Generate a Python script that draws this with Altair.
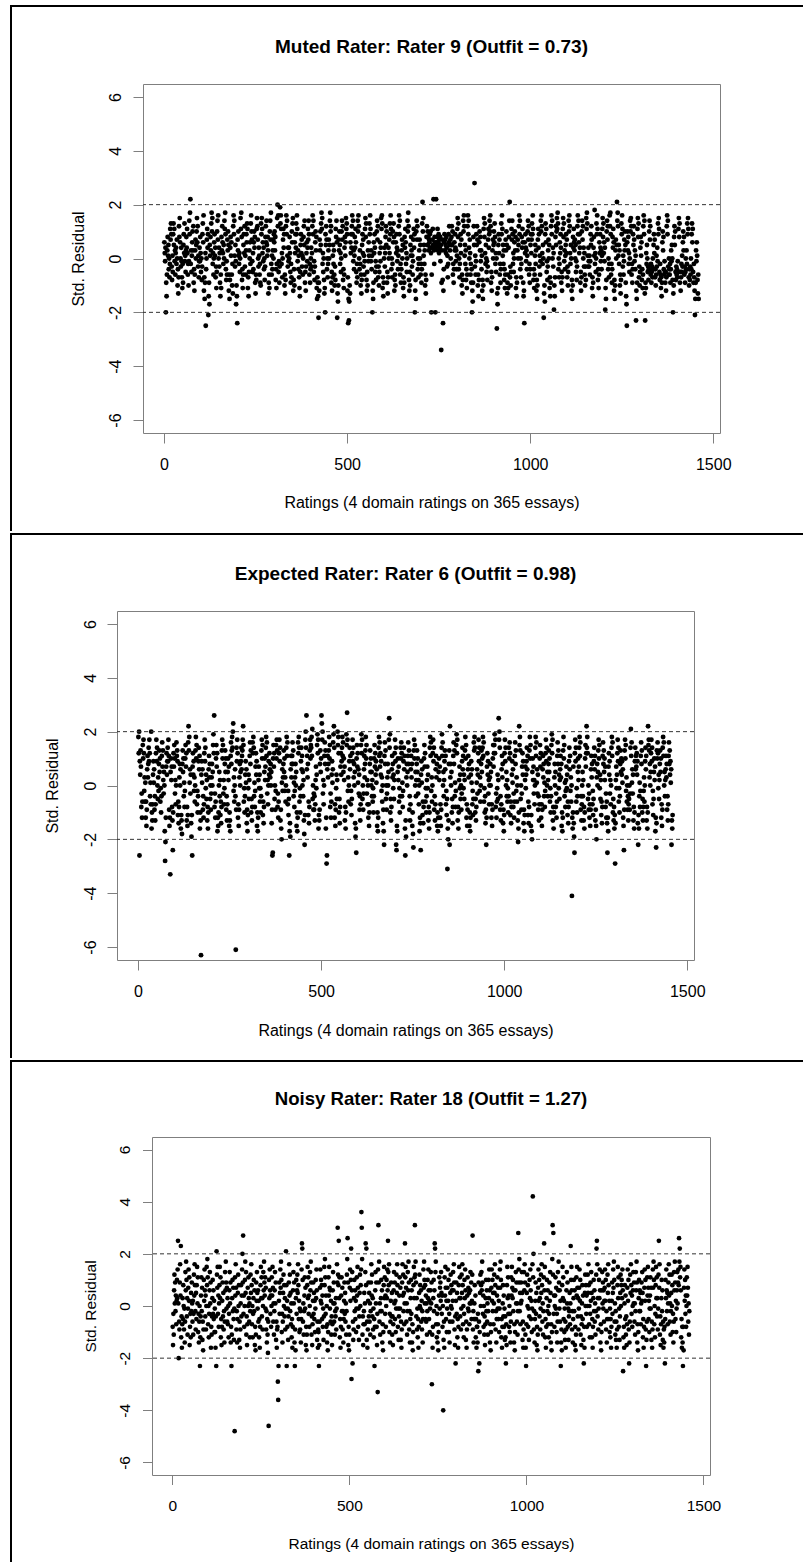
import altair as alt
import pandas as pd

FONT = "Liberation Sans"
GRAY = "#7f7f7f"

panel_titles = [
    "Muted Rater: Rater 9 (Outfit = 0.73)",
    "Expected Rater: Rater 6 (Outfit = 0.98)",
    "Noisy Rater: Rater 18 (Outfit = 1.27)",
]
x_title = "Ratings (4 domain ratings on 365 essays)"
y_title = "Std. Residual"
x_ticks = [0, 500, 1000, 1500]
y_ticks = [-6, -4, -2, 0, 2, 4, 6]
ref_levels = [2, -2]
x_domain = [-57.4, 1518.4]
y_domain = [-6.48, 6.48]

# standardized residuals, in tenths, one per rating (4 domains per essay, in order)
muted_x10 = [
    6,2,-1,4,-20,-9,-14,-6,3,8,1,5,-4,0,-7,-2,11,7,13,9,
    -3,-8,1,-5,9,13,5,11,-1,3,-6,2,4,-2,7,0,-10,-4,-13,-7,
    12,8,15,6,0,-3,4,-1,-7,-11,-2,-9,5,9,2,13,-1,1,-5,3,
    8,4,11,2,-6,-2,-10,-1,14,9,17,22,-2,3,-5,1,6,10,3,12,
    -9,-4,-12,-6,3,7,0,5,10,15,6,12,-3,1,-7,-1,4,-1,8,2,
    -5,0,-8,-3,9,13,6,16,-12,-7,-15,-9,2,-25,-4,0,7,11,4,9,
    -21,-14,-9,-17,5,1,8,3,13,17,10,15,-2,2,-6,0,6,9,1,4,
    -7,-3,-11,-5,10,14,7,16,0,4,-3,2,-9,-14,-6,-11,8,3,12,6,
    2,-2,5,0,14,11,17,9,-4,-8,-1,-6,7,3,10,5,-12,-6,-15,-8,
    4,8,1,6,-6,-10,-2,-13,12,16,9,14,1,-3,5,-1,-17,-10,-14,-24,
    7,3,10,1,-2,2,-5,0,15,11,17,8,-8,-4,-11,-6,5,9,2,12,
    -3,1,-6,3,9,6,13,11,-11,-7,-14,-5,3,0,6,-2,13,16,10,7,
    -1,-5,2,-4,6,10,4,8,-9,-13,-6,-8,11,15,12,7,0,-3,4,1,
    -6,-2,-9,-10,13,9,15,11,2,6,-1,4,-4,0,-8,-3,8,12,6,14,
    5,1,8,3,-13,-9,-6,-11,10,14,7,17,-2,-6,1,-4,3,7,0,9,
    6,10,3,8,-8,-4,-11,-2,15,20,12,16,-5,-1,-9,-3,19,13,16,11,
    -2,2,-7,0,7,11,4,9,-10,-6,-13,-8,12,16,9,14,1,-3,4,-1,
    4,0,8,2,-5,-9,-2,-7,10,6,13,15,-12,-8,-4,-10,6,2,9,4,
    13,9,16,11,-1,3,-4,1,-7,-11,-14,-5,5,9,2,7,-3,1,-6,0,
    8,12,5,14,-9,-5,-12,-3,2,6,-1,4,11,7,14,9,-6,-2,-9,-4,
    0,4,-3,2,12,16,9,14,-5,-1,-8,-3,6,10,3,8,-11,-15,-7,-9,
    -14,-22,-9,-12,7,3,10,5,13,17,11,15,-2,2,-5,0,-8,-13,-11,-20,
    9,5,12,7,-4,0,-7,-2,3,7,0,5,14,17,10,12,-9,-5,-12,-7,
    1,5,-2,3,-6,-10,-3,-8,11,8,14,6,-22,-13,-16,-10,7,3,10,5,
    -2,2,-5,0,10,14,7,12,-8,-4,-11,-6,4,8,1,6,15,11,13,9,
    -12,-7,-24,-15,-23,-16,-10,-13,6,2,9,4,12,16,9,14,-1,3,-4,1,
    8,4,11,6,-5,-9,-2,-7,14,10,16,12,0,-4,3,-2,-10,-6,-13,-8,
    5,9,2,7,-3,1,-6,-1,11,15,8,13,-8,-12,-5,-10,3,-1,6,1,
    13,9,16,11,-1,3,-4,1,-20,-12,-15,-9,6,2,9,4,-5,-1,-8,-3,
    10,14,7,12,-7,-3,-10,-5,2,6,-1,4,15,11,16,13,-11,-7,-14,-9,
    0,4,-3,2,8,12,5,10,-9,-5,-13,-7,4,0,7,2,13,9,16,11,
    -4,0,-7,-2,10,6,13,8,-12,-8,-6,-10,6,2,9,4,-1,3,-4,1,
    12,16,9,14,-6,-2,-9,-4,3,7,0,5,-11,-7,-14,-9,8,4,11,6,
    -2,2,-5,0,14,10,17,12,-8,-12,-5,-10,5,1,8,3,-3,1,-6,-1,
    7,11,4,9,-20,-12,-8,-15,10,14,7,12,-4,0,-7,-2,3,7,0,5,
    -6,-2,-9,-4,13,21,10,15,1,5,-2,3,-10,-6,-13,-8,8,12,5,10,
    5,8,3,7,6,9,4,10,2,-20,-6,4,7,11,5,22,3,-2,8,6,
    -20,4,22,6,8,5,11,3,6,9,2,7,4,8,-1,5,-34,-9,3,7,
    -8,-24,-12,-4,6,9,3,7,5,2,8,4,-3,1,-7,-2,9,6,12,5,
    3,7,0,5,8,12,5,10,-6,-2,-9,-4,6,3,9,4,-1,3,-4,1,
    11,15,8,13,-4,0,-7,-2,5,9,2,7,-10,-6,-13,-8,14,10,16,12,
    1,5,-2,3,-8,-4,-11,-6,12,16,9,14,4,0,7,2,-6,-2,-9,-4,
    -20,-12,-16,-9,8,12,5,28,-3,1,-6,-1,9,5,12,7,-10,-6,-14,-8,
    6,10,3,8,-1,3,-4,1,-12,-8,-15,-10,11,15,8,13,2,-2,5,0,
    -5,-1,-8,-3,7,11,4,9,14,10,16,12,-9,-5,-12,-7,3,7,0,5,
    10,6,13,8,-2,2,-5,0,-26,-13,-17,-11,5,9,2,7,-6,-2,-9,-4,
    13,9,16,11,1,5,-2,3,-8,-4,-11,-6,7,3,10,5,-13,-9,-6,-11,
    4,8,14,21,-7,-3,-10,-5,11,7,14,9,-2,2,-5,0,6,10,3,8,
    -11,-7,-14,-9,3,7,0,5,12,16,9,14,-4,0,-7,-2,8,4,11,6,
    -9,-14,-12,-24,6,2,9,4,-1,3,-4,1,10,14,7,12,-6,-2,-9,-4,
    5,9,2,7,13,9,16,11,-8,-4,-11,-6,1,5,-2,3,-12,-8,-15,-10,
    7,11,4,9,-3,1,-6,-1,14,10,16,12,2,-2,5,0,-22,-13,-10,-16,
    9,13,6,11,-5,-1,-8,-3,3,7,0,5,-11,-7,-14,-9,12,16,9,14,
    0,4,-3,2,-19,-10,-14,-7,8,12,5,10,15,11,17,13,-4,0,-7,-2,
    6,2,9,4,-9,-5,-12,-7,11,15,8,13,-1,3,-4,1,5,9,2,7,
    -7,-3,-10,-5,14,10,16,12,2,-2,5,0,-12,-8,-15,-10,8,4,11,6,
    3,7,0,5,-5,-1,-8,-3,12,16,9,14,6,2,9,4,-9,-5,-12,-7,
    10,14,7,12,0,4,-3,2,-6,-10,-3,-8,15,11,17,13,1,-3,4,-1,
    -3,1,-6,-1,9,5,12,7,-11,-7,-14,-9,4,8,1,18,-2,2,-5,0,
    13,9,16,11,-8,-4,-11,-6,6,2,9,4,-1,3,-4,1,11,15,8,13,
    2,6,-1,4,-19,-11,-15,-8,10,14,7,12,-4,0,-7,-2,16,12,17,9,
    -6,-2,-9,-4,8,4,11,6,-12,-8,-15,-10,3,7,0,5,21,14,17,12,
    1,5,-2,3,-10,-6,-13,-8,13,9,16,11,-3,1,-6,-1,7,3,10,5,
    -9,-14,-17,-25,6,10,3,8,-2,2,-5,0,14,10,15,12,-6,-2,-9,-4,
    9,5,12,7,-1,3,-4,1,-23,-12,-15,-9,11,15,8,13,-7,-3,-10,-5,
    4,8,1,6,-8,-4,-11,-6,12,16,9,14,-13,-23,-9,-11,2,-2,5,0,
    -5,-3,-8,-4,10,14,7,12,-6,-2,-9,-5,-3,-7,0,-4,5,9,2,7,
    -7,-4,-10,-6,1,-3,4,-1,13,9,15,11,-5,-8,-2,-6,-11,-7,-14,-9,
    6,10,3,8,-4,-6,-1,-5,-9,-5,-12,-7,12,16,9,14,-3,-6,0,-4,
    -6,-2,-9,-4,3,-1,5,0,-8,-20,-13,-10,8,12,5,10,-5,-8,-3,-6,
    -4,-7,-1,-5,11,15,8,13,-9,-5,-12,-7,-2,-5,1,-3,6,10,3,8,
    -6,-3,-9,-5,0,-4,3,-2,13,9,15,11,-7,-10,-4,-8,-3,-6,0,-4,
    9,13,6,11,-5,-9,-2,-7,-12,-21,-15,-9,3,-1,6,1,-8,-13,-6,-15,
]

expected_x10 = [
    18,12,20,-26,9,4,13,7,-8,-3,-12,-6,15,10,17,12,-2,3,-6,1,
    -12,-6,-15,-9,6,11,3,8,14,9,17,12,-4,1,-7,20,-16,-10,-13,-7,
    4,9,1,6,-9,-4,-13,-7,12,17,9,14,0,-5,3,-2,8,13,5,10,
    -6,-1,-10,-4,11,16,7,13,2,-3,5,0,-17,-28,-21,-12,7,12,4,9,
    14,9,17,11,-9,-15,-12,-33,5,10,2,7,-8,-13,-24,-10,12,7,15,10,
    -3,2,-7,0,16,11,13,9,-11,-6,-14,-8,3,8,0,6,-16,-11,-13,-18,
    8,13,5,10,-4,1,-8,-2,10,15,7,12,-13,-8,-15,-11,16,22,13,18,
    1,6,-3,4,-14,-19,-11,-26,7,12,4,9,-2,3,-6,0,13,18,10,15,
    -7,-2,-10,-4,9,14,6,11,-16,-10,-13,-63,4,9,1,6,-9,-4,-12,-7,
    12,17,9,14,-1,4,-5,2,-13,-8,-16,-10,6,11,3,8,-5,0,-9,-3,
    3,8,0,5,15,19,12,26,-8,-3,-12,-6,10,15,7,12,-17,-12,-15,-10,
    0,5,-4,2,-11,-6,-14,-8,13,17,10,15,-3,2,-7,-1,8,13,5,10,
    -9,-4,-13,-7,5,10,2,7,-15,-10,-13,-17,11,16,8,13,18,14,20,23,
    -2,3,-6,0,6,-4,-61,-9,14,9,17,12,-12,-7,-15,-9,3,8,0,5,
    9,14,6,11,13,17,22,15,-6,-1,-10,-4,4,9,1,6,-14,-9,-17,-11,
    -1,4,-5,2,11,16,8,13,-10,-5,-13,-8,16,12,18,14,-4,1,-8,-2,
    7,12,4,9,-15,-10,-17,-12,2,7,-1,4,-6,-1,-10,-4,13,17,10,15,
    -11,-6,-14,-8,5,10,2,7,14,18,11,16,-3,2,-7,0,9,4,12,6,
    3,8,0,5,-14,-9,-26,-25,10,15,7,12,-5,0,-9,-2,15,10,17,13,
    -8,-3,-12,-6,12,17,9,14,-13,-9,-16,-20,1,6,-2,3,8,13,5,10,
    -2,3,-6,0,14,18,11,16,-7,-2,-11,-5,-26,-17,-14,-19,6,11,3,8,
    11,16,8,13,-4,1,-8,-2,3,8,0,5,-15,-10,-17,-12,16,12,18,14,
    -6,-1,-10,-4,9,14,6,11,0,5,-4,2,-13,-18,-22,-11,17,20,14,26,
    6,11,3,8,-11,-6,-14,-8,13,17,10,15,14,18,11,21,-5,0,-9,-3,
    -9,-4,-13,-7,2,7,-1,4,15,19,12,17,-16,-11,-13,-9,8,13,5,10,
    26,23,17,20,-3,2,-7,0,11,16,8,13,-16,-12,-29,-26,6,11,3,8,
    13,18,10,15,-8,-3,-12,-6,4,9,1,6,16,19,22,14,-12,-7,-15,-9,
    -1,4,-5,2,20,15,18,12,-10,-5,-14,-8,7,12,4,9,14,18,11,16,
    5,10,2,7,-13,-8,-16,-10,19,15,27,17,-2,3,-6,0,9,14,6,11,
    -7,-2,-11,-5,12,17,9,14,3,8,0,5,-14,-19,-16,-25,10,15,7,12,
    1,6,-3,4,-9,-4,-13,-7,15,19,12,17,-5,0,-9,-3,6,11,3,8,
    13,18,10,15,-3,2,-7,0,-12,-7,-15,-10,8,13,5,10,0,5,-4,2,
    -6,-1,-10,-4,10,15,7,12,4,9,1,6,-15,-10,-17,-12,14,18,11,16,
    7,12,4,9,-2,3,-6,0,-14,-9,-17,-22,11,16,8,13,-5,0,-9,-3,
    3,8,0,5,17,25,14,19,-10,-5,-13,-8,6,11,3,8,-1,4,-5,2,
    12,17,9,14,-22,-24,-15,-17,5,10,2,7,-6,-1,-10,-4,14,10,16,12,
    -4,1,-8,-2,9,14,6,11,-16,-26,-13,-19,3,8,0,5,11,16,8,13,
    -9,-4,-13,-7,6,11,3,8,-15,-10,-18,-23,13,17,10,15,0,5,-4,2,
    8,13,5,10,-3,2,-7,0,-17,-12,-14,-24,4,9,1,6,-11,-6,-14,-8,
    10,15,7,12,-6,-1,-10,-4,2,7,-1,4,-13,-8,-16,-10,14,18,11,16,
    -2,3,-6,0,12,17,9,14,-9,-4,-13,-7,6,11,3,8,-15,-10,-17,-12,
    5,10,2,7,-12,-7,-15,-9,14,19,11,16,0,5,-4,2,9,13,6,11,
    -7,-2,-11,-5,-31,-16,-20,-13,8,13,-22,22,3,8,0,5,-10,-5,-14,-8,
    11,16,8,13,-4,1,-8,-2,15,19,12,17,-13,-8,-16,-10,2,7,-1,4,
    -5,0,-9,-3,9,14,6,11,-1,4,-5,2,13,18,10,15,-12,-7,-15,-9,
    6,11,3,8,-15,-10,-17,-12,4,9,1,6,-7,-2,-11,-5,16,13,18,14,
    -10,-5,-13,-8,1,6,-3,4,12,17,9,14,-2,3,-6,0,8,13,5,10,
    14,18,11,16,-6,-1,-10,-4,-14,-9,-22,-12,7,12,4,9,-3,2,-7,0,
    3,8,0,5,-12,-7,-15,-9,10,15,7,12,15,19,12,17,-8,-3,-12,-6,
    -1,4,-5,2,25,17,20,14,-9,-4,-13,-7,6,11,3,8,-14,-9,-17,-11,
    12,17,9,14,0,5,-4,2,-6,-1,-10,-4,14,10,16,12,-11,-6,-14,-8,
    4,9,1,6,-8,-3,-12,-6,11,16,8,13,-2,3,-6,0,-13,-21,-16,-10,
    22,15,18,13,-5,0,-9,-3,7,12,4,9,-14,-9,-17,-11,2,7,-1,4,
    9,14,6,11,-11,-6,-14,-8,13,18,10,15,-15,-11,-17,-20,5,10,2,7,
    -3,2,-7,0,14,18,11,16,1,6,-3,4,-9,-4,-13,-7,10,15,7,12,
    -12,-7,-15,-9,6,11,3,8,-4,1,-8,-2,12,17,9,14,0,5,-4,2,
    8,13,5,10,-6,-1,-10,-4,15,19,12,17,-13,-8,-16,-10,3,8,0,5,
    -8,-3,-12,-6,11,16,8,13,-1,4,-5,2,6,11,3,8,-15,-10,-17,-12,
    13,18,10,15,-4,1,-8,-2,2,7,-1,4,-11,-6,-14,-8,9,14,6,11,
    -2,3,-6,0,-41,-12,-16,-10,7,-14,-19,-25,12,17,9,14,-6,-1,-10,-4,
    5,10,2,7,14,18,11,16,-9,-4,-13,-7,0,5,-4,2,-13,-8,-16,-10,
    10,15,7,12,22,14,18,12,-5,0,-9,-3,-12,-7,-15,-9,6,11,3,8,
    -7,-2,-11,-5,9,14,6,11,-13,-9,-15,-20,3,8,0,5,13,17,10,15,
    -1,4,-5,2,-11,-6,-14,-8,11,16,8,13,5,10,2,7,-8,-3,-12,-6,
    -14,-25,-12,-17,7,12,4,9,-3,2,-7,0,14,18,11,16,-10,-5,-13,-8,
    -16,-11,-29,-14,2,7,-1,4,12,17,9,14,-6,-1,-10,-4,8,13,5,10,
    4,9,1,6,-12,-15,-24,-9,13,17,10,15,-2,3,-6,0,-9,-4,-13,-7,
    -5,0,-9,-3,14,21,11,16,1,6,-3,4,-13,-8,-16,-10,9,14,6,11,
    7,12,4,9,-14,-22,-11,-16,-4,1,-8,-2,11,16,8,13,-10,-5,-13,-8,
    -2,3,-6,0,9,14,6,11,-13,-8,-16,-10,22,15,17,13,3,8,0,5,
    12,17,9,14,-7,-2,-11,-5,5,10,2,7,-17,-12,-23,-14,13,10,16,12,
    -1,4,-5,2,8,13,5,10,-12,-7,-15,-9,14,18,11,16,0,5,-4,2,
    6,11,3,8,-9,-4,-13,-7,11,16,8,13,4,9,1,6,-22,-13,-16,-11,
]

noisy_x10 = [
    -8,-15,-3,-11,6,12,1,9,-2,4,-7,2,10,3,14,25,1,-20,-6,-9,
    9,16,4,23,-12,-4,-16,-7,3,-5,8,0,-9,-1,-14,-6,13,6,17,10,
    -4,3,-11,-1,7,14,2,11,-15,-8,-3,-12,5,-2,9,1,-6,2,-11,-3,
    12,4,16,8,-2,-9,5,-5,8,15,1,11,-10,-3,-14,-6,0,-23,-12,-4,
    4,11,-2,7,-13,-6,-17,-9,10,2,14,6,-4,4,-9,0,15,8,18,11,
    -7,0,-12,-3,6,13,1,9,-16,-8,-11,-4,3,10,-3,6,-5,2,-10,-1,
    -10,-16,-4,-23,21,12,7,15,-3,4,-8,1,8,15,3,11,-12,-5,-15,-8,
    2,9,-4,5,-9,-2,-14,-6,13,6,17,9,-1,7,-6,3,-7,0,-12,-3,
    6,13,1,9,-14,-8,-23,-11,3,10,-2,7,-5,-13,-1,-48,11,4,16,7,
    -9,-2,-14,-5,5,12,0,8,-13,-6,-16,-9,1,8,-4,4,14,20,9,27,
    -3,4,-8,0,10,17,5,13,-11,-4,-15,-7,7,0,11,3,-6,1,-12,-2,
    12,5,16,8,-7,0,-12,-3,3,10,-2,6,-15,-8,-17,-11,9,2,13,5,
    -1,6,-6,2,-12,-5,-16,-8,8,15,3,11,-4,3,-9,0,13,6,17,9,
    4,11,-1,7,-9,-2,-14,-5,-11,-18,-6,-46,10,3,14,6,-3,4,-8,0,
    11,4,15,7,-6,1,-11,-2,6,13,1,9,-13,-6,-16,-9,-8,-29,-36,-23,
    2,9,-3,5,14,7,17,10,-10,-3,-14,-6,5,12,0,8,-4,3,-9,-1,
    21,8,-23,2,-8,-1,-13,-4,9,16,4,12,-2,5,-7,1,-12,-5,-16,-8,
    6,13,1,9,-14,-23,-9,-17,3,10,-3,6,12,5,16,8,-5,2,-10,-1,
    -9,-2,-14,-5,14,24,22,10,-6,1,-11,-2,4,11,-1,7,-15,-8,-17,-11,
    8,15,3,11,-3,4,-8,0,13,6,17,9,-11,-4,-15,-7,2,9,-3,5,
    -5,2,-10,-1,10,3,14,6,-13,-6,-16,-9,-10,-23,-15,-6,7,14,2,10,
    1,8,-5,4,-8,-1,-13,-4,15,8,18,11,-3,4,-8,0,-14,-7,-17,-10,
    11,4,15,7,-1,6,-6,2,-11,-4,-15,-7,6,13,1,9,-6,1,-11,-2,
    -4,3,-9,-1,16,9,30,12,8,25,3,11,-12,-5,-16,-8,4,11,-2,7,
    -9,-2,-14,-5,2,9,-3,5,-6,1,-11,-2,12,18,26,9,-15,-8,-17,-11,
    7,14,2,10,22,-28,6,13,-22,-6,-13,-9,3,10,-2,6,-5,2,-10,-1,
    11,4,15,7,-8,-1,-13,-4,5,12,0,8,14,36,30,18,-11,-4,-15,-7,
    -2,5,-7,1,13,24,8,22,-13,-6,-16,-9,2,9,-4,5,-6,1,-11,-2,
    9,16,4,12,-4,3,-9,-1,-12,-5,-23,-8,6,13,1,9,-8,-15,-3,-33,
    14,31,9,17,-6,1,-11,-2,3,10,-2,6,-14,-7,-17,-10,8,15,3,11,
    -3,4,-8,0,10,3,14,6,25,13,8,16,-10,-3,-14,-6,2,9,-4,5,
    -11,-4,-15,-7,6,13,1,9,-5,2,-10,-1,12,5,16,8,-8,-1,-13,-4,
    4,11,-1,7,-13,-6,-16,-9,9,16,4,12,-2,5,-7,1,24,11,15,7,
    -6,1,-11,-2,13,6,17,9,-9,-2,-14,-5,3,10,-3,6,-14,-7,-17,-10,
    8,15,3,11,31,12,17,9,-4,3,-9,-1,-12,-5,-16,-8,5,12,0,8,
    -1,6,-6,2,-9,-2,-14,-5,14,7,17,10,1,8,-5,4,-6,1,-11,-2,
    10,3,14,6,-5,2,-10,-1,6,13,1,9,-30,-11,-16,-8,3,10,-2,6,
    24,22,13,17,-7,0,-12,-3,-14,-7,-17,-10,4,11,-1,7,9,2,13,5,
    -3,4,-8,0,-40,-13,-6,-16,11,4,15,7,-5,2,-10,-1,7,14,2,10,
    -10,-3,-14,-6,5,12,0,8,-1,6,-6,2,13,6,16,9,-9,-15,-4,-22,
    2,9,-3,5,-12,-5,-16,-8,8,15,3,11,-4,3,-9,-1,12,5,16,8,
    -7,0,-12,-3,10,3,14,6,-13,-6,-16,-9,4,11,-1,7,-2,5,-7,1,
    6,13,1,9,-5,2,12,27,-9,-2,-14,-5,1,8,-5,4,-12,-5,-16,-8,
    -8,-14,-3,-25,9,-6,-22,-10,5,12,0,8,13,6,17,9,-3,4,-8,0,
    -11,-4,-15,-7,3,10,-2,6,-6,1,-11,-2,10,3,14,6,-14,-7,-17,-10,
    7,14,2,10,-2,5,-7,1,12,5,16,8,-9,-2,-14,-5,4,11,-1,7,
    -5,2,-10,-1,14,7,17,10,-12,-5,-16,-8,1,8,-4,4,-8,-1,-13,-4,
    -12,-22,-7,-15,8,15,3,11,-3,4,-8,0,-10,-3,-14,-6,11,4,15,7,
    3,10,-2,6,-14,-7,-17,-10,6,13,1,9,-6,1,-11,-2,28,14,9,18,
    -2,5,-7,1,9,2,13,5,-13,-6,-16,-9,13,6,16,9,-11,-16,-23,-7,
    5,12,0,8,-8,-1,-13,-4,10,3,14,6,-5,2,-10,-1,16,42,11,20,
    -9,-2,-14,-5,2,9,-3,5,-15,-8,-17,-11,7,14,2,10,-4,3,-9,-1,
    12,5,16,8,-6,1,-11,-2,11,24,6,15,-12,-5,-16,-8,3,10,-2,6,
    -7,0,-12,-3,9,2,13,5,-14,-7,-17,-10,18,31,12,28,-3,4,-8,0,
    4,11,-1,7,-10,-3,-14,-6,13,6,17,9,-1,6,-6,2,-23,-14,-9,-17,
    8,15,3,11,-5,2,-10,-1,-13,-6,-16,-9,6,13,1,9,-8,-1,-13,-4,
    -2,5,-7,1,23,10,15,6,-9,-2,-14,-5,3,10,-2,6,-15,-8,-17,-11,
    11,4,15,7,-4,3,-9,-1,7,14,2,10,-11,-4,-15,-7,1,8,-5,4,
    -13,-22,-8,-16,5,12,0,8,-3,4,-8,0,12,5,16,8,-7,0,-12,-3,
    9,2,13,5,-12,-5,-16,-8,3,10,-2,6,-6,1,-11,-2,12,22,25,16,
    -4,3,-9,-1,10,3,14,6,-14,-7,-17,-10,6,13,1,9,-1,6,-6,2,
    7,14,2,10,-9,-2,-14,-5,12,5,16,8,-5,2,-10,-1,-12,-5,-16,-8,
    2,9,-3,5,14,7,17,10,-6,1,-11,-2,-13,-6,-16,-9,8,15,3,11,
    -8,-1,-13,-4,5,12,0,8,10,3,14,6,-25,-12,-8,-16,1,8,-5,4,
    -11,-4,-15,-7,7,14,2,10,-9,-22,-14,-6,12,5,16,8,-3,4,-8,0,
    6,13,1,9,-6,1,-11,-2,13,6,17,9,-14,-7,-17,-10,3,10,-2,6,
    -2,5,-7,1,9,2,13,5,-12,-5,-16,-8,7,14,2,10,-9,-23,-13,-6,
    11,4,15,7,-5,2,-10,-1,4,11,-1,7,-13,-6,-16,-9,14,7,17,10,
    -7,0,-12,-3,8,15,3,11,-4,3,-9,-1,12,25,7,16,-11,-4,-15,-7,
    3,10,-2,6,-13,-6,-16,-9,-14,-8,-22,-5,10,3,14,6,-2,5,-7,1,
    9,16,4,12,-6,1,-11,-2,5,12,0,8,-10,-3,-14,-6,13,6,17,9,
    -5,2,-10,-1,6,13,1,9,14,8,26,17,22,11,15,6,-12,-5,-16,-8,
    -14,-23,-8,-17,7,14,2,10,-3,4,-8,0,11,4,15,7,-6,1,-11,-2,
]

# per-panel layout (absolute plot-area origin, sizes, type sizes)
geoms = [
    dict(ox=142, oy=83, w=577, h=349, fs=16, ts=19, tick=10, xlp=26, ylp=12.5,
         xty=74.5, ytx=-59.5, tty=-31.5, ytop=5, ynext=531, size=24),
    dict(ox=116, oy=608, w=577, h=349, fs=16, ts=19, tick=10, xlp=26, ylp=12,
         xty=75, ytx=-60, tty=-31.5, ytop=531, ynext=1056, size=24),
    dict(ox=151, oy=1132, w=558, h=338, fs=15.5, ts=18.6, tick=9.5, xlp=26, ylp=13,
         xty=73.3, ytx=-57, tty=-32, ytop=1056, ynext=1559, size=22),
]
FRAME_X = 10
FRAME_RIGHT = 802


def panel(res_x10, title, g):
    df = pd.DataFrame({
        "rating": list(range(1, len(res_x10) + 1)),
        "res": [v / 10 for v in res_x10],
    })
    xs = alt.Scale(domain=x_domain, nice=False, zero=False)
    ys = alt.Scale(domain=y_domain, nice=False, zero=False)
    xaxis = alt.Axis(
        values=x_ticks, format="d", title=x_title, grid=False, domain=False,
        tickSize=g["tick"], tickColor=GRAY, tickWidth=1,
        labelFont=FONT, labelFontSize=g["fs"], labelColor="black",
        labelBaseline="alphabetic", labelPadding=g["xlp"], labelFlush=False,
        labelOverlap=False,
        titleFont=FONT, titleFontSize=g["fs"], titleFontWeight="normal",
        titleColor="black", titleX=g["w"] / 2, titleY=g["xty"],
        titleBaseline="alphabetic", titleAlign="center",
    )
    yaxis = alt.Axis(
        values=y_ticks, title=y_title, grid=False, domain=False,
        tickSize=g["tick"], tickColor=GRAY, tickWidth=1,
        labelFont=FONT, labelFontSize=g["fs"], labelColor="black",
        labelAngle=270, labelAlign="center", labelBaseline="alphabetic",
        labelPadding=g["ylp"], labelFlush=False, labelOverlap=False,
        labelExpr="datum.value + ''",
        titleFont=FONT, titleFontSize=g["fs"], titleFontWeight="normal",
        titleColor="black", titleAngle=270, titleX=g["ytx"], titleY=g["h"] / 2,
        titleBaseline="alphabetic", titleAlign="center",
    )
    pts = alt.Chart(df).mark_circle(color="black", opacity=1, size=g["size"]).encode(
        x=alt.X("rating:Q", scale=xs, axis=xaxis),
        y=alt.Y("res:Q", scale=ys, axis=yaxis),
    )
    refs = alt.Chart(pd.DataFrame({"ref": ref_levels})).mark_rule(
        color="#333333", strokeWidth=1, strokeDash=[4, 3]
    ).encode(y=alt.Y("ref:Q", scale=ys))

    one = pd.DataFrame({"a": [0]})
    head = alt.Chart(one).mark_text(
        font=FONT, fontSize=g["ts"], fontWeight="bold", color="black",
        align="center", baseline="alphabetic",
    ).encode(x=alt.value(g["w"] / 2), y=alt.value(g["tty"]), text=alt.value(title))

    # page frame (thin filled bars so that their extent is exact)
    lx = FRAME_X - g["ox"]
    top = g["ytop"] - g["oy"]
    nxt = g["ynext"] - 1 - g["oy"]
    right = FRAME_RIGHT - g["ox"]
    frame_h = alt.Chart(one).mark_rect(color="black", opacity=1).encode(
        x=alt.value(lx - 1), x2=alt.value(right),
        y=alt.value(top - 1), y2=alt.value(top + 1),
    )
    frame_v = alt.Chart(one).mark_rect(color="black", opacity=1).encode(
        x=alt.value(lx - 1), x2=alt.value(lx + 1),
        y=alt.value(top - 1), y2=alt.value(nxt),
    )
    layered = alt.layer(pts, refs, head, frame_h, frame_v).properties(
        width=g["w"], height=g["h"],
    )
    spacer = alt.Chart(
        one, view=alt.ViewBackground(stroke="transparent", strokeWidth=0)
    ).mark_point(size=0, strokeWidth=0, opacity=0).encode(
        x=alt.value(0.5), y=alt.value(0.5)
    ).properties(width=1, height=1)
    return alt.hconcat(spacer, layered, spacing=0)


rows = [
    panel(muted_x10, panel_titles[0], geoms[0]),
    panel(expected_x10, panel_titles[1], geoms[1]),
    panel(noisy_x10, panel_titles[2], geoms[2]),
]

chart = alt.vconcat(*rows, spacing=0).properties(
    padding={"left": 8, "top": 4, "right": 0, "bottom": 0},
    background="white",
).configure_view(stroke=GRAY, strokeWidth=1)

chart.save("out.html", embed_options={"renderer": "svg", "actions": False})
